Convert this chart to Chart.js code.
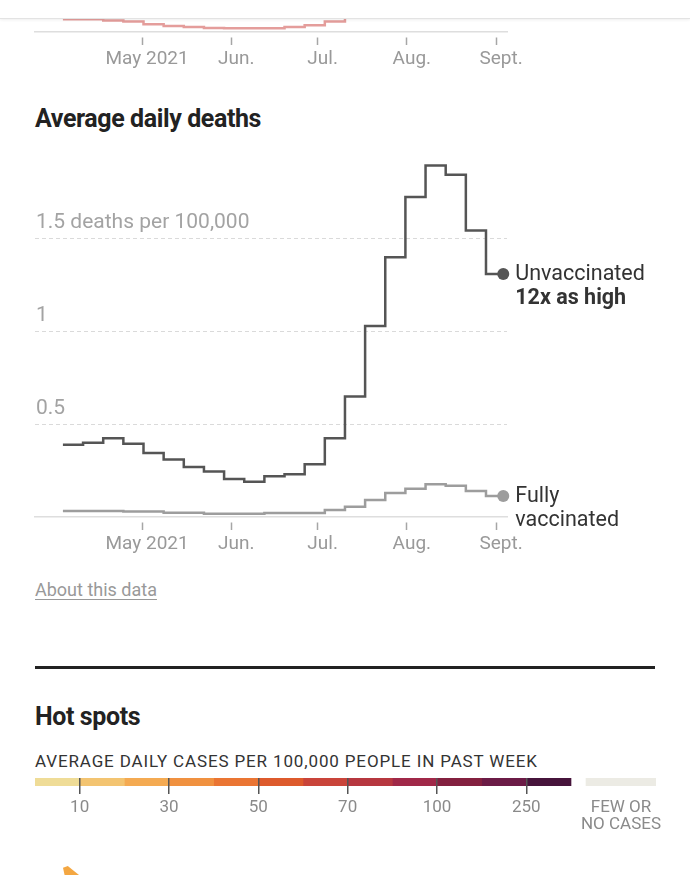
<!DOCTYPE html>
<html>
<head>
<meta charset="utf-8">
<script src="https://cdn.jsdelivr.net/npm/chart.js@4.4.1/dist/chart.umd.min.js"></script>
<style>
html,body{margin:0;padding:0;background:#fff;}
body{width:690px;height:875px;position:relative;overflow:hidden;font-family:Roboto,'Noto Sans',sans-serif;}
.abs{position:absolute;}
#topWrap{left:0;top:0;width:690px;height:80px;overflow:hidden;}
#topChart{position:absolute;left:0;top:-345px;}
#header{left:0;top:0;width:690px;height:18px;background:#fff;border-bottom:1px solid #e3e3e3;box-shadow:0 1px 3px rgba(0,0,0,0.07);z-index:5;}
.title{margin:0;font-weight:700;font-size:25px;letter-spacing:-0.4px;color:#222;line-height:30px;white-space:nowrap;}
#about{left:35px;top:579px;font-size:18px;line-height:22px;color:#999;text-decoration:underline;text-underline-offset:3px;text-decoration-thickness:1px;}
#rule{left:35px;top:666px;width:620px;height:3px;background:#222;}
#legendHead{left:35px;top:751px;font-size:17px;line-height:21px;letter-spacing:0.86px;color:#333;white-space:nowrap;}
#map{left:63px;top:866px;width:16px;height:9px;background:#f4a742;clip-path:polygon(0 20%,30% 0,100% 100%,10% 100%);}
</style>
</head>
<body>
<div id="topWrap" class="abs"><canvas id="topChart" width="690" height="420"></canvas></div>
<div id="header" class="abs"></div>

<div class="abs title" style="left:35px;top:104px;">Average daily deaths</div>
<canvas id="mainChart" class="abs" style="left:0;top:140px;" width="690" height="420"></canvas>

<div id="about" class="abs">About this data</div>
<div id="rule" class="abs"></div>
<div class="abs title" style="left:35px;top:702px;">Hot spots</div>
<div id="legendHead" class="abs">AVERAGE DAILY CASES PER 100,000 PEOPLE IN PAST WEEK</div>
<canvas id="legendChart" class="abs" style="left:0;top:770px;" width="690" height="70"></canvas>
<div id="map" class="abs"></div>

<script>
// ---------- data ----------
const weekStarts = ['2021-04-03','2021-04-10','2021-04-17','2021-04-24','2021-05-01','2021-05-08',
  '2021-05-15','2021-05-22','2021-05-29','2021-06-05','2021-06-12','2021-06-19','2021-06-26',
  '2021-07-03','2021-07-10','2021-07-17','2021-07-24','2021-07-31','2021-08-07','2021-08-14',
  '2021-08-21','2021-08-28'];
const lastDate = '2021-09-03';

const unvaccinatedDeaths = [0.39,0.40,0.425,0.395,0.345,0.31,0.27,0.245,0.205,0.19,0.22,0.23,
  0.285,0.425,0.65,1.03,1.40,1.725,1.895,1.845,1.545,1.31];
const vaccinatedDeaths = [0.032,0.032,0.032,0.029,0.029,0.023,0.023,0.018,0.018,0.018,0.022,0.022,
  0.022,0.038,0.055,0.091,0.129,0.152,0.177,0.168,0.140,0.113];

// previous chart (cut off at top of page): unvaccinated cases, only the visible part
const unvaccinatedCasesVisible = [3.45,3.45,3.1,2.8,2.1,1.6,1.35,1.08,1.0,1.0,1.0,1.35,1.8,2.8,6.0];

const monthTickDates = ['2021-05-01','2021-06-01','2021-07-01','2021-08-01','2021-09-01'];
const monthTickLabels = ['May 2021','Jun.','Jul.','Aug.','Sept.'];
const deathTickValues = [0,0.5,1,1.5];
const deathTickLabels = ['','0.5','1','1.5 deaths per 100,000'];
const unvaccinatedLabel = ['Unvaccinated','12x as high'];
const vaccinatedLabel = ['Fully','vaccinated'];

const legendColors = ['#efdc97','#f3c471','#f4aa52','#f09140','#ea7533','#dd5a2c','#c9443a',
  '#b6373f','#a02848','#83203f','#6b1b46','#46143b'];
const legendTickPositions = [1,3,5,7,9,11];
const legendTickLabels = ['10','30','50','70','100','250'];
const noCasesColor = '#ecebe4';
const noCasesLabel = ['FEW OR','NO CASES'];

// ---------- helpers ----------
const DAY = 86400000;
const dayOf = s => (Date.parse(s + 'T00:00:00Z') - Date.UTC(2021,0,1)) / DAY;
const midDay = s => dayOf(s) + 0.5;
const monthTicks = monthTickDates.map(dayOf);
const X_MIN = 82.8, X_MAX = 246.8;

function weekly(values, withEnd) {
  const pts = values.map((v,i) => ({x: midDay(weekStarts[i]), y: v}));
  if (withEnd) pts.push({x: midDay(lastDate), y: values[values.length-1]});
  return pts;
}

const endLabels = {
  id: 'endLabels',
  afterDatasetsDraw(chart) {
    const ctx = chart.ctx;
    chart.data.datasets.forEach((ds, i) => {
      if (!ds.endLabel) return;
      const meta = chart.getDatasetMeta(i);
      const pt = meta.data[meta.data.length - 1];
      ctx.save();
      ctx.fillStyle = '#333';
      ctx.textBaseline = 'middle';
      ctx.textAlign = 'left';
      ds.endLabel.forEach((line, j) => {
        const bold = ds.endLabelBold && ds.endLabelBold[j];
        ctx.font = (bold ? '700 ' : '400 ') + '21.5px Roboto';
        ctx.fillText(line, pt.x + 12, pt.y + 1 + j * 24);
      });
      ctx.restore();
    });
  }
};

function xScale() {
  return {
    type: 'linear', min: X_MIN, max: X_MAX,
    afterFit: s => { s.height = 43; s.paddingLeft = 0; s.paddingRight = 0; },
    afterBuildTicks: s => { s.ticks = monthTicks.map(v => ({value: v})); },
    ticks: {
      callback: (v, i) => monthTickLabels[i],
      font: {family: 'Roboto', size: 19}, color: '#999',
      padding: 3, maxRotation: 0, autoSkip: false, labelOffset: 5
    },
    grid: {drawOnChartArea: false, drawTicks: true, tickLength: 13, tickColor: '#a6a6a6',
      tickWidth: 1.5, tickBorderDash: [0,5,8,100]},
    border: {display: true, color: '#dedede', width: 1.5}
  };
}

const lastIdxRadius = r => ctx => ctx.dataIndex === ctx.dataset.data.length - 1 ? r : 0;

// ---------- top (cut-off) chart ----------
new Chart(document.getElementById('topChart'), {
  type: 'line',
  data: {datasets: [{
    data: weekly(unvaccinatedCasesVisible, false),
    borderColor: '#e49d9b', borderWidth: 2.5, stepped: 'before', pointRadius: 0,
    borderJoinStyle: 'miter', borderCapStyle: 'butt'
  }]},
  options: {
    responsive: false, animation: false, devicePixelRatio: 1,
    layout: {padding: {left: 35, right: 183, top: 5, bottom: 0}},
    plugins: {legend: {display: false}, tooltip: {enabled: false}},
    scales: {
      x: xScale(),
      y: {min: 0, max: 100, display: true,
        afterFit: s => { s.width = 0; s.paddingTop = 0; s.paddingBottom = 0; },
        ticks: {display: false}, grid: {display: false}, border: {display: false}}
    }
  }
});

// ---------- main chart ----------
new Chart(document.getElementById('mainChart'), {
  type: 'line',
  data: {datasets: [
    {
      label: 'Unvaccinated', data: weekly(unvaccinatedDeaths, true),
      borderColor: '#555', borderWidth: 2.5, stepped: 'before', clip: false,
      borderJoinStyle: 'miter', borderCapStyle: 'butt',
      pointRadius: lastIdxRadius(6), pointHoverRadius: lastIdxRadius(6),
      pointBackgroundColor: '#555', pointBorderWidth: 0,
      endLabel: unvaccinatedLabel, endLabelBold: [false, true]
    },
    {
      label: 'Fully vaccinated', data: weekly(vaccinatedDeaths, true),
      borderColor: '#9d9d9d', borderWidth: 2.5, stepped: 'before', clip: false,
      borderJoinStyle: 'miter', borderCapStyle: 'butt',
      pointRadius: lastIdxRadius(6), pointHoverRadius: lastIdxRadius(6),
      pointBackgroundColor: '#9d9d9d', pointBorderWidth: 0,
      endLabel: vaccinatedLabel, endLabelBold: [false, false]
    }
  ]},
  options: {
    responsive: false, animation: false, devicePixelRatio: 1,
    layout: {padding: {left: 35, right: 183, top: 5, bottom: 0}},
    plugins: {legend: {display: false}, tooltip: {enabled: false}},
    scales: {
      x: xScale(),
      y: {
        min: 0, max: 2,
        afterFit: s => { s.width = 0; s.paddingTop = 0; s.paddingBottom = 0; },
        afterBuildTicks: s => { s.ticks = deathTickValues.map(v => ({value: v})); },
        ticks: {mirror: true, padding: 1, labelOffset: -16,
          callback: (v, i) => deathTickLabels[i],
          font: {family: 'Roboto', size: 21}, color: '#a3a3a3'},
        grid: {color: c => (c.tick && c.tick.value === 0) ? 'rgba(0,0,0,0)' : '#dadada',
          lineWidth: 1, drawTicks: false},
        border: {display: false, dash: [4,3]}
      }
    }
  },
  plugins: [endLabels]
});

// ---------- hot spots legend ----------
const gapUnits = 0.336, noCasesUnits = 1.567;
const legendDatasets = legendColors.map(c => ({data: [1], backgroundColor: c}));
legendDatasets.push({data: [gapUnits], backgroundColor: 'rgba(0,0,0,0)'});
legendDatasets.push({data: [noCasesUnits], backgroundColor: noCasesColor});
const legendMax = legendColors.length + gapUnits + noCasesUnits;
const noCasesPos = legendColors.length + gapUnits + noCasesUnits / 2;
const legendTicks = legendTickPositions.concat([noCasesPos]);
const legendLabels = legendTickLabels.concat([noCasesLabel]);

new Chart(document.getElementById('legendChart'), {
  type: 'bar',
  data: {labels: ['scale'], datasets: legendDatasets.map(d => Object.assign(d, {
    borderWidth: 0, barPercentage: 1, categoryPercentage: 1}))},
  options: {
    indexAxis: 'y',
    responsive: false, animation: false, devicePixelRatio: 1,
    layout: {padding: {left: 35, right: 34, top: 8, bottom: 0}},
    plugins: {legend: {display: false}, tooltip: {enabled: false}},
    scales: {
      y: {stacked: true, display: false},
      x: {
        type: 'linear', stacked: true, min: 0, max: legendMax,
        afterFit: s => { s.height = 54; s.paddingLeft = 0; s.paddingRight = 0; },
        afterBuildTicks: s => { s.ticks = legendTicks.map(v => ({value: v})); },
        ticks: {callback: (v, i) => legendLabels[i], autoSkip: false, maxRotation: 0,
          padding: 5, color: '#8a8a8a', font: {family: 'Roboto', size: 17, lineHeight: '17px'}},
        grid: {z: 1, drawOnChartArea: true, drawTicks: true, tickLength: 8, lineWidth: 1.5,
          color: c => c.index < legendTickPositions.length ? '#555' : 'rgba(0,0,0,0)',
          tickColor: c => c.index < legendTickPositions.length ? '#555' : 'rgba(0,0,0,0)'},
        border: {display: false}
      }
    }
  }
});
</script>
</body>
</html>
